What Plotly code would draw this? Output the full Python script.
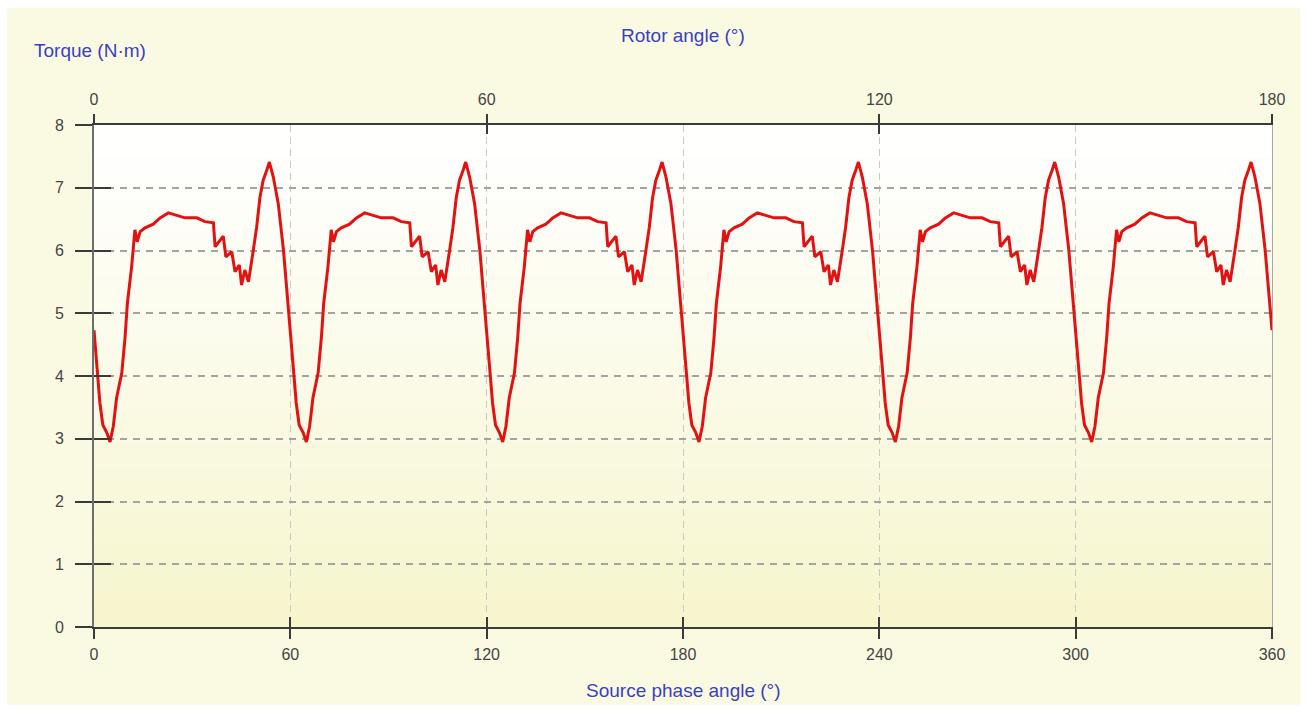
import plotly.graph_objects as go

# Source phase angle (deg) and torque (N·m) samples, six electrical cycles
phase_deg = [
    0.0, 0.8, 1.8, 2.7, 3.9, 4.9, 5.9, 6.9, 8.5, 9.5, 10.2, 11.5, 12.5, 13.2, 14.1, 15.6, 18.1, 20.2, 22.7, 25.3, 27.8,
    31.4, 33.9, 36.5, 37.0, 39.5, 40.3, 42.1, 43.1, 44.4, 45.1, 46.1, 47.2, 48.7, 49.7, 50.7, 51.7, 52.8, 53.6, 54.8,
    56.3, 57.9, 59.1,
    60.0, 60.8, 61.8, 62.7, 63.9, 64.9, 65.9, 66.9, 68.5, 69.5, 70.2, 71.5, 72.5, 73.2, 74.1, 75.6, 78.1, 80.2, 82.7,
    85.3, 87.8, 91.4, 93.9, 96.5, 97.0, 99.5, 100.3, 102.1, 103.1, 104.4, 105.1, 106.1, 107.2, 108.7, 109.7, 110.7,
    111.7, 112.8, 113.6, 114.8, 116.3, 117.9, 119.1,
    120.0, 120.8, 121.8, 122.7, 123.9, 124.9, 125.9, 126.9, 128.5, 129.5, 130.2, 131.5, 132.5, 133.2, 134.1, 135.6,
    138.1, 140.2, 142.7, 145.3, 147.8, 151.4, 153.9, 156.5, 157.0, 159.5, 160.3, 162.1, 163.1, 164.4, 165.1, 166.1,
    167.2, 168.7, 169.7, 170.7, 171.7, 172.8, 173.6, 174.8, 176.3, 177.9, 179.1,
    180.0, 180.8, 181.8, 182.7, 183.9, 184.9, 185.9, 186.9, 188.5, 189.5, 190.2, 191.5, 192.5, 193.2, 194.1, 195.6,
    198.1, 200.2, 202.7, 205.3, 207.8, 211.4, 213.9, 216.5, 217.0, 219.5, 220.3, 222.1, 223.1, 224.4, 225.1, 226.1,
    227.2, 228.7, 229.7, 230.7, 231.7, 232.8, 233.6, 234.8, 236.3, 237.9, 239.1,
    240.0, 240.8, 241.8, 242.7, 243.9, 244.9, 245.9, 246.9, 248.5, 249.5, 250.2, 251.5, 252.5, 253.2, 254.1, 255.6,
    258.1, 260.2, 262.7, 265.3, 267.8, 271.4, 273.9, 276.5, 277.0, 279.5, 280.3, 282.1, 283.1, 284.4, 285.1, 286.1,
    287.2, 288.7, 289.7, 290.7, 291.7, 292.8, 293.6, 294.8, 296.3, 297.9, 299.1,
    300.0, 300.8, 301.8, 302.7, 303.9, 304.9, 305.9, 306.9, 308.5, 309.5, 310.2, 311.5, 312.5, 313.2, 314.1, 315.6,
    318.1, 320.2, 322.7, 325.3, 327.8, 331.4, 333.9, 336.5, 337.0, 339.5, 340.3, 342.1, 343.1, 344.4, 345.1, 346.1,
    347.2, 348.7, 349.7, 350.7, 351.7, 352.8, 353.6, 354.8, 356.3, 357.9, 359.1,
    360.0,
]

torque_nm = [
    4.73, 4.20, 3.57, 3.22, 3.10, 2.95, 3.20, 3.65, 4.05, 4.62, 5.16, 5.74, 6.33, 6.14, 6.30, 6.36, 6.42, 6.52, 6.60,
    6.56, 6.52, 6.52, 6.46, 6.44, 6.06, 6.23, 5.90, 5.98, 5.66, 5.77, 5.45, 5.69, 5.50, 6.01, 6.37, 6.84, 7.12, 7.28,
    7.41, 7.17, 6.75, 6.01, 5.20,
    4.73, 4.20, 3.57, 3.22, 3.10, 2.95, 3.20, 3.65, 4.05, 4.62, 5.16, 5.74, 6.33, 6.14, 6.30, 6.36, 6.42, 6.52, 6.60,
    6.56, 6.52, 6.52, 6.46, 6.44, 6.06, 6.23, 5.90, 5.98, 5.66, 5.77, 5.45, 5.69, 5.50, 6.01, 6.37, 6.84, 7.12, 7.28,
    7.41, 7.17, 6.75, 6.01, 5.20,
    4.73, 4.20, 3.57, 3.22, 3.10, 2.95, 3.20, 3.65, 4.05, 4.62, 5.16, 5.74, 6.33, 6.14, 6.30, 6.36, 6.42, 6.52, 6.60,
    6.56, 6.52, 6.52, 6.46, 6.44, 6.06, 6.23, 5.90, 5.98, 5.66, 5.77, 5.45, 5.69, 5.50, 6.01, 6.37, 6.84, 7.12, 7.28,
    7.41, 7.17, 6.75, 6.01, 5.20,
    4.73, 4.20, 3.57, 3.22, 3.10, 2.95, 3.20, 3.65, 4.05, 4.62, 5.16, 5.74, 6.33, 6.14, 6.30, 6.36, 6.42, 6.52, 6.60,
    6.56, 6.52, 6.52, 6.46, 6.44, 6.06, 6.23, 5.90, 5.98, 5.66, 5.77, 5.45, 5.69, 5.50, 6.01, 6.37, 6.84, 7.12, 7.28,
    7.41, 7.17, 6.75, 6.01, 5.20,
    4.73, 4.20, 3.57, 3.22, 3.10, 2.95, 3.20, 3.65, 4.05, 4.62, 5.16, 5.74, 6.33, 6.14, 6.30, 6.36, 6.42, 6.52, 6.60,
    6.56, 6.52, 6.52, 6.46, 6.44, 6.06, 6.23, 5.90, 5.98, 5.66, 5.77, 5.45, 5.69, 5.50, 6.01, 6.37, 6.84, 7.12, 7.28,
    7.41, 7.17, 6.75, 6.01, 5.20,
    4.73, 4.20, 3.57, 3.22, 3.10, 2.95, 3.20, 3.65, 4.05, 4.62, 5.16, 5.74, 6.33, 6.14, 6.30, 6.36, 6.42, 6.52, 6.60,
    6.56, 6.52, 6.52, 6.46, 6.44, 6.06, 6.23, 5.90, 5.98, 5.66, 5.77, 5.45, 5.69, 5.50, 6.01, 6.37, 6.84, 7.12, 7.28,
    7.41, 7.17, 6.75, 6.01, 5.20,
    4.73,
]

phase_ticks = [0, 60, 120, 180, 240, 300, 360]
rotor_ticks = [0, 60, 120, 180]
torque_ticks = [0, 1, 2, 3, 4, 5, 6, 7, 8]

TITLE_BLUE = "#3b3fc4"
TICK_GREY = "#444444"
AXIS_DARK = "#3a3a3a"
FONT = "Liberation Sans, Arial, sans-serif"

fig = go.Figure()

fig.add_trace(go.Scatter(
    x=phase_deg, y=torque_nm, mode="lines",
    line=dict(color="rgb(226,18,18)", width=3),
    showlegend=False, hoverinfo="x+y",
))

# Empty traces so the overlay axes (top scale, crossing tick halves, right border) get drawn
for xa, ya in [("x2", "y"), ("x3", "y2"), ("x4", "y3")]:
    fig.add_trace(go.Scatter(x=[None], y=[None], xaxis=xa, yaxis=ya,
                             showlegend=False, hoverinfo="skip"))

# Background: cream panel plus a white-to-pale-yellow gradient in the plot area
shapes = [dict(type="rect", xref="paper", yref="paper",
               x0=-0.074, x1=1.024, y0=-0.155, y1=1.233,
               fillcolor="#fafae2", line=dict(width=0), layer="below")]
n_strips = 60
top_rgb = (255, 255, 255)
bot_rgb = (246, 245, 204)
for i in range(n_strips):
    t = (i + 0.5) / n_strips
    w = t ** 1.15
    c = tuple(round(top_rgb[k] * (1 - w) + bot_rgb[k] * w) for k in range(3))
    shapes.append(dict(type="rect", xref="paper", yref="paper",
                       x0=0, x1=1, y0=1 - (i + 1) / n_strips, y1=1 - i / n_strips,
                       fillcolor="rgb(%d,%d,%d)" % c, line=dict(width=0), layer="below"))

tick_font = dict(family=FONT, size=16, color=TICK_GREY)
title_font = dict(family=FONT, size=19, color=TITLE_BLUE)

fig.update_layout(
    width=1306, height=711,
    margin=dict(l=94, r=34, t=125, b=84),
    paper_bgcolor="#ffffff",
    plot_bgcolor="rgba(0,0,0,0)",
    font=dict(family=FONT),
    shapes=shapes,
    xaxis=dict(
        range=[0, 360], tickvals=phase_ticks, ticks="outside", ticklen=10, tickwidth=2,
        tickcolor=AXIS_DARK, showline=True, linecolor=AXIS_DARK, linewidth=2,
        showgrid=True, gridcolor="#c9c9c0", gridwidth=1, griddash="7px,5px",
        tickfont=tick_font, zeroline=False, fixedrange=True, ticklabelstandoff=2,
    ),
    xaxis2=dict(
        range=[0, 180], tickvals=rotor_ticks, overlaying="x", side="top", anchor="y",
        ticks="outside", ticklen=9, tickwidth=2, tickcolor=AXIS_DARK,
        showline=True, linecolor=AXIS_DARK, linewidth=1.5, showgrid=False,
        tickfont=tick_font, zeroline=False, fixedrange=True, ticklabelstandoff=3,
    ),
    xaxis3=dict(
        range=[0, 360], tickvals=phase_ticks, overlaying="x", side="bottom", anchor="y2",
        ticks="inside", ticklen=10, tickwidth=2, tickcolor=AXIS_DARK,
        showticklabels=False, showline=False, showgrid=False, zeroline=False, fixedrange=True,
    ),
    xaxis4=dict(
        range=[0, 180], tickvals=rotor_ticks, overlaying="x", side="top", anchor="y3",
        ticks="inside", ticklen=9, tickwidth=2, tickcolor=AXIS_DARK,
        showticklabels=False, showline=False, showgrid=False, zeroline=False, fixedrange=True,
    ),
    yaxis=dict(
        range=[0, 8], tickvals=torque_ticks, ticks="outside", ticklen=17, tickwidth=2,
        tickcolor=AXIS_DARK, showline=True, linecolor="#6e6e6e", linewidth=2,
        showgrid=True, gridcolor="#a3a3a0", gridwidth=1.5, griddash="7px,6px",
        tickfont=tick_font, zeroline=False, fixedrange=True, ticklabelstandoff=8,
    ),
    yaxis2=dict(
        range=[0, 8], tickvals=torque_ticks, overlaying="y", side="left", anchor="x3",
        ticks="inside", ticklen=17, tickwidth=2, tickcolor=AXIS_DARK,
        showticklabels=False, showline=False, showgrid=False, zeroline=False, fixedrange=True,
    ),
    yaxis3=dict(
        range=[0, 8], overlaying="y", side="right", anchor="x4",
        ticks="", showticklabels=False, showline=True, linecolor="#a8a8a8", linewidth=1,
        showgrid=False, zeroline=False, fixedrange=True,
    ),
    annotations=[
        dict(text="Torque (N·m)", xref="paper", yref="paper", x=-0.053, y=1.149,
             xanchor="left", yanchor="middle", showarrow=False, font=title_font),
        dict(text="Rotor angle (°)", xref="paper", yref="paper", x=0.5, y=1.179,
             xanchor="center", yanchor="middle", showarrow=False, font=title_font),
        dict(text="Source phase angle (°)", xref="paper", yref="paper", x=0.5, y=-0.1255,
             xanchor="center", yanchor="middle", showarrow=False, font=title_font),
    ],
)

fig.write_html("out.html")
